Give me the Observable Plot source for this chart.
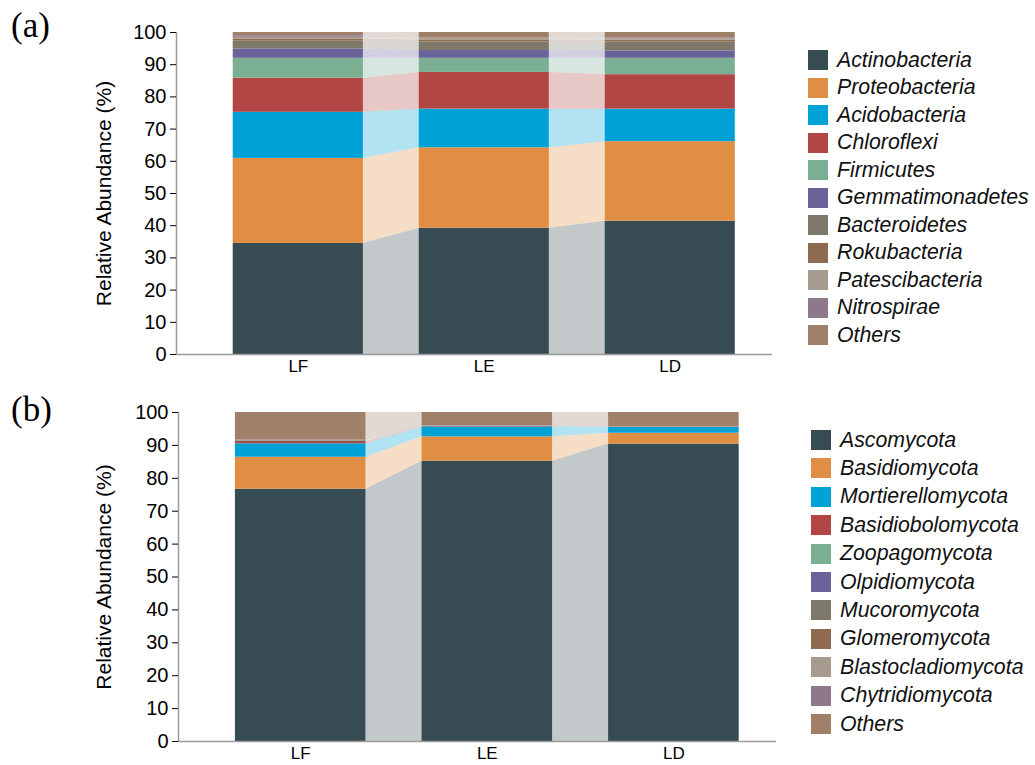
<!DOCTYPE html>
<html>
<head>
<meta charset="utf-8">
<script src="https://cdn.jsdelivr.net/npm/d3@7"></script>
<script src="https://cdn.jsdelivr.net/npm/@observablehq/plot@0.6"></script>
<style>
  html, body { margin: 0; padding: 0; background: #fff; }
  #wrap { position: relative; width: 1035px; height: 765px; font-family: "Liberation Sans", Arial, sans-serif; overflow: hidden; }
  .panel { position: absolute; left: 0; }
  .plabel { position: absolute; font-family: "Liberation Serif", "Times New Roman", serif; font-size: 35px; color: #000; }
  .legend { position: absolute; }
  .row { position: absolute; left: 0; display: flex; align-items: center; white-space: nowrap; }
  .sw { width: 20px; height: 20px; margin-right: 9px; box-sizing: border-box; }
  .lt { font-style: italic; font-size: 21.3px; color: #111; }
</style>
</head>
<body>
<div id="wrap"></div>
<script>
const samples = ["LF", "LE", "LD"];

const bacTaxa = ["Actinobacteria", "Proteobacteria", "Acidobacteria", "Chloroflexi", "Firmicutes",
  "Gemmatimonadetes", "Bacteroidetes", "Rokubacteria", "Patescibacteria", "Nitrospirae", "Others"];
const bacColors = ["#374b53", "#e08e43", "#00a2d6", "#b24645", "#7aaf94",
  "#6a6399", "#7d786a", "#8e6b4e", "#a79a8e", "#8f778c", "#a08069"];
const bacLF = [34.5, 26.4, 14.3, 10.6, 6.2, 2.9, 2.4, 0.7, 0.5, 0.5, 1.0];
const bacLE = [39.2, 25.0, 12.0, 11.4, 4.4, 2.4, 2.7, 0.6, 0.4, 0.2, 1.7];
const bacLD = [41.4, 24.7, 10.1, 10.7, 5.1, 2.3, 2.7, 0.6, 0.5, 0.2, 1.7];

const funTaxa = ["Ascomycota", "Basidiomycota", "Mortierellomycota", "Basidiobolomycota", "Zoopagomycota",
  "Olpidiomycota", "Mucoromycota", "Glomeromycota", "Blastocladiomycota", "Chytridiomycota", "Others"];
const funColors = bacColors;
const funLF = [76.7, 9.7, 4.1, 0.7, 0.3, 0.0, 0.0, 0.0, 0.0, 0.1, 8.4];
const funLE = [85.2, 7.4, 3.0, 0.15, 0.1, 0.05, 0.05, 0.0, 0.0, 0.1, 3.95];
const funLD = [90.4, 3.3, 1.8, 0.05, 0.05, 0.0, 0.0, 0.0, 0.0, 0.0, 4.4];

const yTicks = [0, 10, 20, 30, 40, 50, 60, 70, 80, 90, 100];
const xDomain = [-0.655, 2.55];
const HW = 0.35;

function panel(taxa, colors, values, cfg) {
  const rows = [];
  samples.forEach((s, i) => {
    let c = 0;
    taxa.forEach((t, k) => {
      const v = values[i][k];
      rows.push({sample: s, i, taxon: t, y1: c, y2: c + v});
      c += v;
    });
  });
  const bands = [];
  for (let i = 0; i < samples.length - 1; i++) {
    taxa.forEach((t) => {
      const a = rows.find(r => r.i === i && r.taxon === t);
      const b = rows.find(r => r.i === i + 1 && r.taxon === t);
      bands.push({z: t + i, taxon: t, x: i + HW, y1: a.y1, y2: a.y2});
      bands.push({z: t + i, taxon: t, x: i + 1 - HW, y1: b.y1, y2: b.y2});
    });
  }
  return Plot.plot({
    width: 800,
    height: cfg.height,
    marginLeft: cfg.marginLeft,
    marginRight: 800 - cfg.frameRight,
    marginTop: cfg.marginTop,
    marginBottom: cfg.marginBottom,
    style: {fontFamily: "'Liberation Sans', Arial, sans-serif", color: "#000", background: "transparent"},
    x: {domain: xDomain, axis: null},
    y: {domain: [0, 100], axis: null},
    color: {domain: taxa, range: colors},
    marks: [
      Plot.areaY(bands, {x: "x", y1: "y1", y2: "y2", z: "z", fill: "taxon", fillOpacity: 0.3}),
      Plot.rect(rows, {x1: d => d.i - HW, x2: d => d.i + HW, y1: "y1", y2: "y2", fill: "taxon"}),
      Plot.ruleY([0], {stroke: "#9a9a9a", strokeWidth: 1.5}),
      Plot.ruleX([xDomain[0]], {y1: 0, y2: 100, stroke: "#9a9a9a", strokeWidth: 1.5}),
      Plot.axisY({ticks: yTicks, tickSize: 6, tickPadding: 4, fontSize: 20, label: null, stroke: "#000"}),
      Plot.axisY({ticks: [], label: "Relative Abundance (%)", labelAnchor: "center", labelArrow: "none", labelOffset: cfg.labelOffset, fontSize: 21}),
      Plot.axisX({ticks: [0, 1, 2], tickFormat: i => samples[i], tickSize: 0, tickPadding: 5, fontSize: 17, label: null})
    ]
  });
}

const wrap = document.getElementById("wrap");

function addPanel(svg, top) {
  const d = document.createElement("div");
  d.className = "panel";
  d.style.top = top + "px";
  d.appendChild(svg);
  wrap.appendChild(d);
}

function addLegend(taxa, colors, left, top, step) {
  const lg = document.createElement("div");
  lg.className = "legend";
  lg.style.left = left + "px";
  lg.style.top = "0px";
  taxa.forEach((t, k) => {
    const r = document.createElement("div");
    r.className = "row";
    r.style.top = (top + k * step - 12) + "px";
    r.style.height = "24px";
    const sw = document.createElement("div");
    sw.className = "sw";
    sw.style.background = colors[k];
    const tx = document.createElement("span");
    tx.className = "lt";
    tx.textContent = t;
    r.appendChild(sw);
    r.appendChild(tx);
    lg.appendChild(r);
  });
  wrap.appendChild(lg);
}

function addLabel(text, left, top) {
  const l = document.createElement("div");
  l.className = "plabel";
  l.style.left = left + "px";
  l.style.top = top + "px";
  l.textContent = text;
  wrap.appendChild(l);
}

addPanel(panel(bacTaxa, bacColors, [bacLF, bacLE, bacLD],
  {height: 385, marginLeft: 176, frameRight: 772, marginTop: 32, marginBottom: 31, labelOffset: 80}), 0);
addPanel(panel(funTaxa, funColors, [funLF, funLE, funLD],
  {height: 385, marginLeft: 178, frameRight: 776, marginTop: 32, marginBottom: 24, labelOffset: 82}), 380);

addLegend(bacTaxa, bacColors, 808, 60, 27.5);
addLegend(funTaxa, funColors, 811, 440, 28.4);

addLabel("(a)", 11, 6);
addLabel("(b)", 11, 390);
</script>
</body>
</html>
